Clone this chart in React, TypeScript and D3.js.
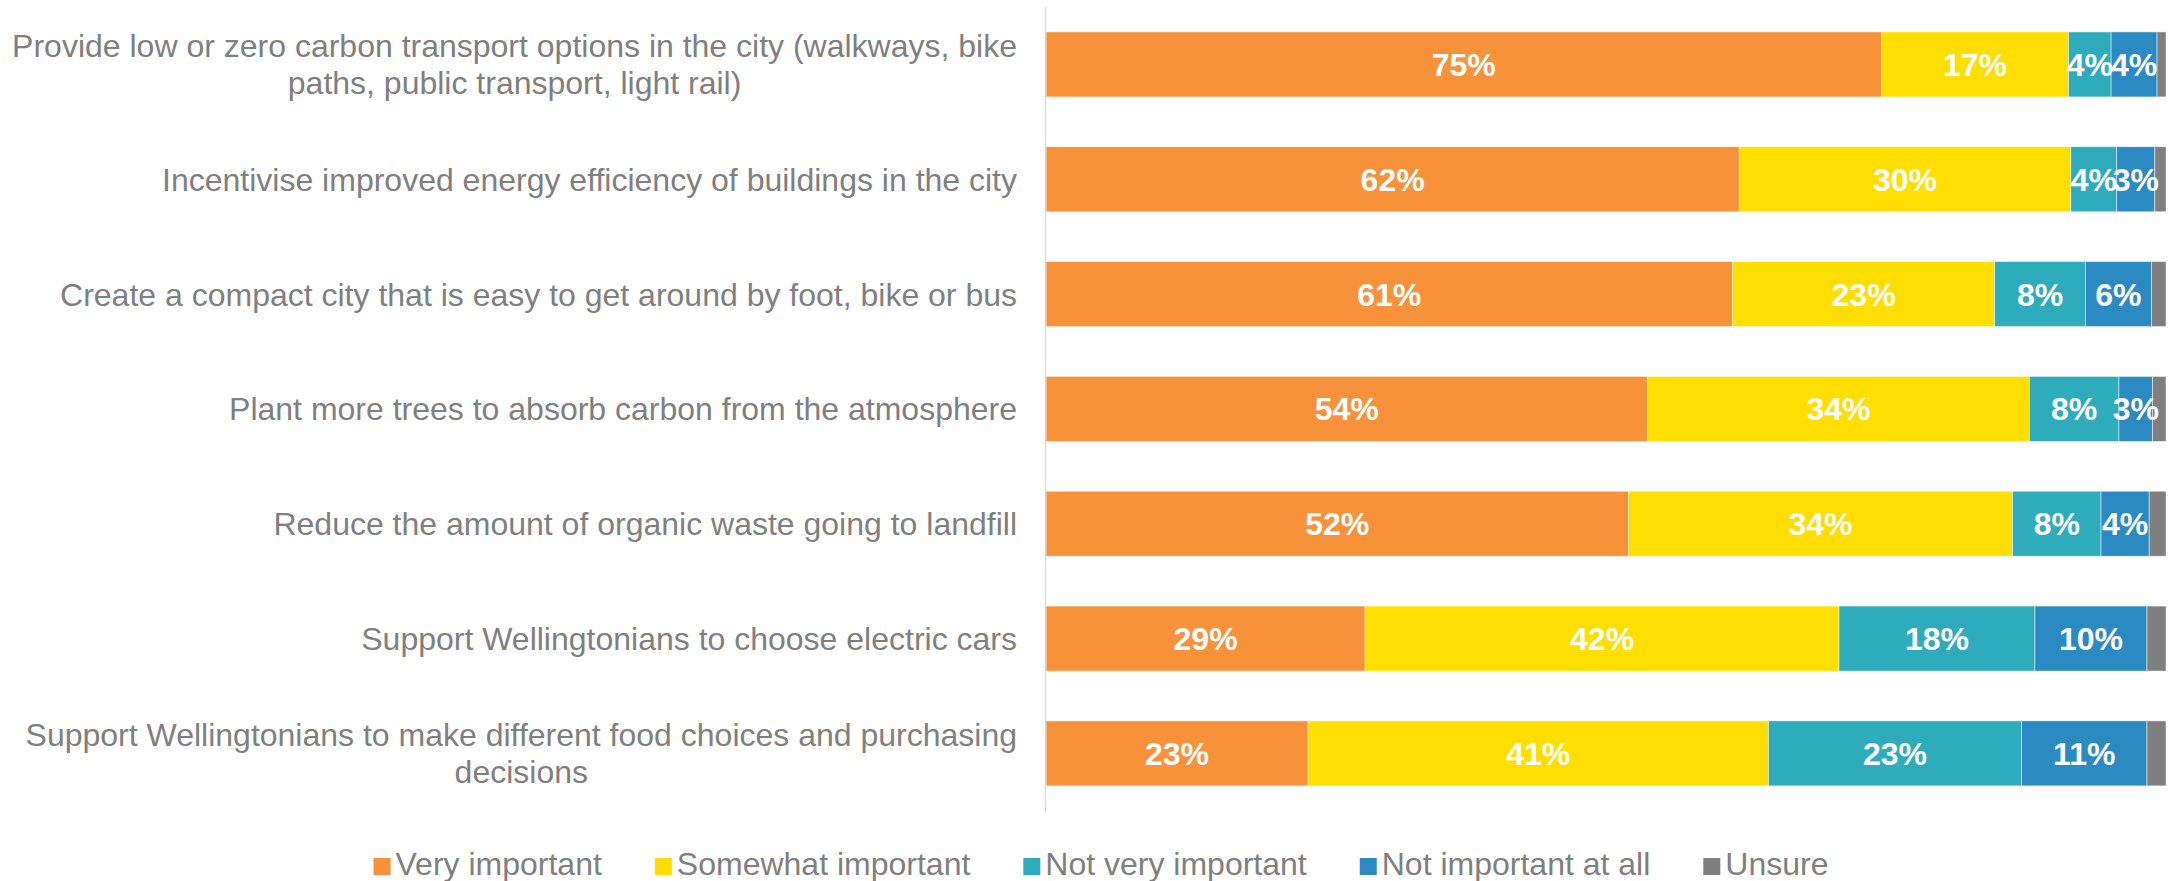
import React from "react";
import * as d3 from "d3";

const categories = [
  "Provide low or zero carbon transport options in the city (walkways, bike paths, public transport, light rail)",
  "Incentivise improved energy efficiency of buildings in the city",
  "Create a compact city that is easy to get around by foot, bike or bus",
  "Plant more trees to absorb carbon from the atmosphere",
  "Reduce the amount of organic waste going to landfill",
  "Support Wellingtonians to choose electric cars",
  "Support Wellingtonians to make different food choices and purchasing decisions",
];

const seriesNames = ["Very important", "Somewhat important", "Not very important", "Not important at all", "Unsure"];
const seriesColors = ["#F7923A", "#FFDE00", "#2EACBB", "#2A8AC1", "#7F7F7F"];

const veryImportant = [74.6, 61.9, 61.3, 53.7, 52.0, 28.5, 23.4];
const somewhatImportant = [16.7, 29.6, 23.4, 34.1, 34.3, 42.3, 41.1];
const notVeryImportant = [3.8, 4.1, 8.1, 8.0, 7.9, 17.5, 22.6];
const notImportantAtAll = [4.1, 3.4, 5.9, 3.0, 4.3, 10.0, 11.2];
const unsure = [0.8, 1.0, 1.3, 1.2, 1.5, 1.7, 1.7];

const seriesValues = [veryImportant, somewhatImportant, notVeryImportant, notImportantAtAll, unsure];
const labelledSeries = [true, true, true, true, false];

const W = 2173;
const H = 881;
const FONT = '"Liberation Sans", Arial, sans-serif';

let ctx: CanvasRenderingContext2D | null = null;
function measure(text: string, font: string): number {
  if (!ctx) ctx = document.createElement("canvas").getContext("2d");
  if (!ctx) return text.length * 15;
  ctx.font = font;
  return ctx.measureText(text).width;
}

function wrap(text: string, maxW: number): string[] {
  const words = text.split(" ");
  const lines: string[] = [];
  let cur = "";
  for (const w of words) {
    const t = cur ? cur + " " + w : w;
    if (cur && measure(t, `32px ${FONT}`) > maxW) {
      lines.push(cur);
      cur = w;
    } else cur = t;
  }
  if (cur) lines.push(cur);
  return lines;
}

export default function App() {
  const x = d3.scaleLinear().domain([0, 100]).range([1046, 2166]);
  const y = d3
    .scaleBand<string>()
    .domain(categories)
    .range([7, 810.8])
    .paddingInner(0.434)
    .paddingOuter(0.217);

  const rows = categories.map((c, i) => {
    const obj: any = { cat: c };
    seriesNames.forEach((s, k) => (obj[s] = seriesValues[k][i]));
    return obj;
  });
  const stacked = d3.stack<any>().keys(seriesNames)(rows);

  const capHalf = 11.5;
  const lineH = 37;
  const labelRight = 1017;

  // legend layout
  const sq = 17;
  const gapSq = 5;
  const gapItem = 53;
  const legendFont = `32px ${FONT}`;
  const widths = seriesNames.map((s) => measure(s, legendFont));
  const total = widths.reduce((a, b) => a + b, 0) + seriesNames.length * (sq + gapSq) + (seriesNames.length - 1) * gapItem;
  let lx = 1101 - total / 2;
  const legendItems = seriesNames.map((s, k) => {
    const item = { name: s, color: seriesColors[k], x: lx };
    lx += sq + gapSq + widths[k] + gapItem;
    return item;
  });

  return (
    <svg
      width={W}
      height={H}
      style={{ position: "absolute", left: 0, top: 0, display: "block", background: "#fff" }}
      fontFamily={FONT}
    >
      <rect x={0} y={0} width={W} height={H} fill="#fff" />
      {stacked.map((layer, k) => (
        <g key={seriesNames[k]} fill={seriesColors[k]}>
          {layer.map((d, i) => (
            <rect
              key={i}
              x={x(d[0])}
              y={y(categories[i])}
              width={x(d[1]) - x(d[0])}
              height={y.bandwidth()}
              stroke="#ffffff"
              strokeOpacity={0.6}
              strokeWidth={0.8}
            />
          ))}
        </g>
      ))}
      {stacked.map((layer, k) =>
        labelledSeries[k]
          ? layer.map((d, i) => (
              <text
                key={`${k}-${i}`}
                x={(x(d[0]) + x(d[1])) / 2}
                y={(y(categories[i]) as number) + y.bandwidth() / 2 + capHalf}
                textAnchor="middle"
                fill="#ffffff"
                fontWeight="bold"
                fontSize={32}
              >
                {`${Math.round(seriesValues[k][i])}%`}
              </text>
            ))
          : null
      )}
      <line x1={1045.5} x2={1045.5} y1={7} y2={811} stroke="#d9d9d9" strokeWidth={1.5} />
      {categories.map((c) => {
        const lines = wrap(c, 1030);
        const cy = (y(c) as number) + y.bandwidth() / 2;
        const start = cy - ((lines.length - 1) * lineH) / 2;
        const maxW = Math.max(...lines.map((l) => measure(l, `32px ${FONT}`)));
        const multi = lines.length > 1;
        const ax = multi ? labelRight - maxW / 2 : labelRight;
        return (
          <text key={c} textAnchor={multi ? "middle" : "end"} fill="#7F7F7F" fontSize={32}>
            {lines.map((l, j) => (
              <tspan key={j} x={ax} y={start + j * lineH + capHalf}>
                {l}
              </tspan>
            ))}
          </text>
        );
      })}
      {legendItems.map((it) => (
        <g key={it.name}>
          <rect x={it.x} y={858} width={sq} height={sq} fill={it.color} />
          <text x={it.x + sq + gapSq} y={875} fill="#7F7F7F" fontSize={32}>
            {it.name}
          </text>
        </g>
      ))}
    </svg>
  );
}
